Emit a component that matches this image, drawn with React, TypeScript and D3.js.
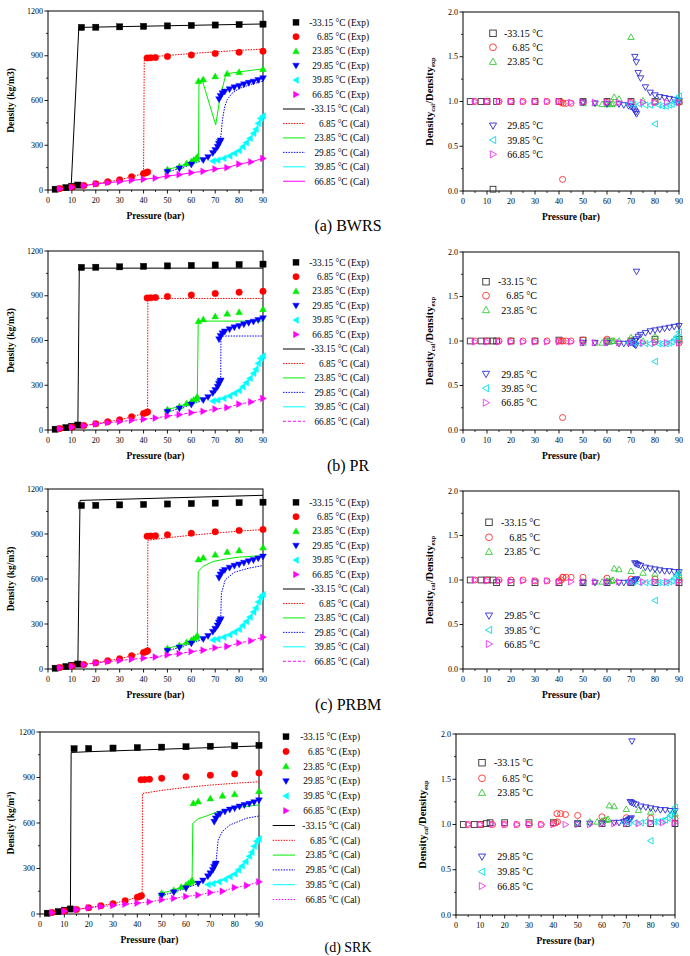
import React from 'react';
import * as d3 from 'd3';

const TEMPS = ['-33.15', '6.85', '23.85', '29.85', '39.85', '66.85'];
const X_TICKS = [0, 10, 20, 30, 40, 50, 60, 70, 80, 90];
const DENS_TICKS = [0, 300, 600, 900, 1200];
const RATIO_TICKS = [0, 0.5, 1.0, 1.5, 2.0];
const CAPTIONS = ['(a) BWRS', '(b) PR', '(c) PRBM', '(d) SRK'];

// ---- Experimental data (pressure bar, density kg/m3)
const P_M33 = [3, 7.5, 10, 12.5, 14, 20, 30, 40, 50, 60, 70, 80, 90];
const D_M33 = [5, 16, 25, 33, 1090, 1091, 1094, 1097, 1100, 1103, 1106, 1109, 1112];
const P_685 = [5, 10, 15, 20, 25, 30, 35, 40, 41, 41.7, 41.5, 43, 45, 50, 60, 70, 80, 90];
const D_685 = [10, 20, 30, 42, 55, 68, 88, 110, 115, 121, 885, 886, 888, 895, 905, 915, 923, 930];
const P_2385 = [50, 55, 58, 60, 61, 62, 62.5, 63, 65, 70, 75, 80, 90];
const D_2385 = [138, 158, 178, 192, 202, 212, 222, 730, 742, 762, 780, 790, 810];
const P_2985 = [50, 55, 60, 65, 67, 69, 70, 71, 71.5, 72, 72.3, 71.6, 72.2, 73, 74, 76, 78, 80, 82, 84, 86, 88, 90];
const D_2985 = [122, 143, 170, 200, 220, 248, 268, 290, 310, 322, 332, 608, 630, 648, 660, 675, 688, 697, 708, 718, 726, 737, 749];
const P_3985 = [69, 71, 73.5, 76, 78, 80, 81.5, 83, 84.5, 86, 87, 88, 89, 90];
const D_3985 = [194, 200, 212, 228, 246, 264, 290, 317, 346, 380, 407, 447, 480, 496];
const P_6685 = [5, 10, 15, 20, 25, 30, 35, 40, 45, 50, 55, 60, 65, 70, 75, 80, 85, 90];
const D_6685 = [9, 18, 29, 40, 49, 56, 65, 72, 80, 94, 103, 116, 125, 141, 150, 174, 188, 212];

// ---- shared low (vapour) branches of calculated curves
const LOW_M33: [number, number][] = [[3, 5], [7.5, 16], [10, 25], [12.5, 33]];
const LOW_685: [number, number][] = [[5, 10], [10, 20], [15, 30], [20, 42], [25, 55], [30, 68], [35, 88], [40, 110]];
const LOW_2385: [number, number][] = [[50, 138], [55, 158], [58, 178], [60, 192], [61, 202], [62, 212], [62.5, 222]];
const LOW_2985: [number, number][] = [[50, 122], [55, 143], [60, 170], [65, 200], [67, 220], [69, 248], [70, 268], [71, 290], [72, 322]];
const CAL_3985: [number, number][] = [[69, 194], [71, 200], [73.5, 212], [76, 228], [78, 246], [80, 264], [81.5, 290], [83, 317], [84.5, 346], [86, 380], [87, 407], [88, 447], [89, 480], [90, 496]];
const CAL_6685: [number, number][] = [[3, 5], [5, 9], [10, 18], [15, 29], [20, 40], [25, 49], [30, 56], [35, 65], [40, 72], [45, 80], [50, 94], [55, 103], [60, 116], [65, 125], [70, 141], [75, 150], [80, 174], [85, 188], [90, 212]];

// ---- BWRS calculated
const BWRS_M33: [number, number][] = [[3, 5], [7.5, 16], [9.7, 25], [12.9, 1090], [90, 1113]];
const BWRS_685: [number, number][] = [...LOW_685, [40.3, 889], [50, 902], [60, 915], [70, 926], [80, 936], [90, 945]];
const BWRS_2385: [number, number][] = [...LOW_2385, [63, 228], [63.2, 715], [64.4, 745], [70.2, 436], [72, 620], [74.5, 778], [80, 792], [90, 812]];
const BWRS_2985: [number, number][] = [...LOW_2985, [72.5, 380], [73, 470], [74, 560], [75, 605], [77, 648], [80, 680], [85, 708], [90, 730]];

// ---- PR calculated
const PR_M33: [number, number][] = [...LOW_M33, [13.1, 1085], [90, 1085]];
const PR_685: [number, number][] = [...LOW_685, [41.7, 121], [41.8, 882], [90, 882]];
const PR_2385: [number, number][] = [...LOW_2385, [62.9, 730], [90, 730]];
const PR_2985: [number, number][] = [...LOW_2985, [72.3, 332], [72.4, 630], [90, 630]];

// ---- PRBM calculated
const PRBM_M33: [number, number][] = [...LOW_M33, [13.4, 1124], [90, 1158]];
const PRBM_685: [number, number][] = [...LOW_685, [41.7, 121], [41.8, 858], [50, 875], [60, 892], [70, 906], [80, 919], [90, 930]];
const PRBM_2385: [number, number][] = [...LOW_2385, [62.9, 650], [65, 685], [69.2, 717], [75, 735], [80, 746], [90, 756]];
const PRBM_2985: [number, number][] = [...LOW_2985, [72.3, 335], [72.6, 505], [74.2, 595], [78, 645], [84, 672], [90, 690]];

// ---- SRK calculated
const SRK_M33: [number, number][] = [...LOW_M33, [12.8, 1065], [20, 1070], [90, 1108]];
const SRK_685: [number, number][] = [...LOW_685, [42, 121], [42.1, 795], [50, 815], [60, 835], [70, 850], [80, 862], [90, 872]];
const SRK_2385: [number, number][] = [...LOW_2385, [62.8, 598], [65, 628], [68.4, 646], [72.5, 672], [80, 700], [90, 719]];
const SRK_2985: [number, number][] = [...LOW_2985, [72.3, 332], [73.2, 488], [75, 545], [78, 587], [84.8, 631], [90, 646]];

// ---- ratio Density_cal / Density_exp (aligned with the experimental pressure arrays)
const BWRS_R_M33 = [1, 1, 1, 0.02, 1, 1, 1, 1, 1, 1, 1, 1, 1];
const BWRS_R_685 = [1, 1, 1, 1, 1, 1, 1, 1, 0.99, 0.98, 0.13, 0.98, 0.98, 0.99, 0.99, 0.99, 0.99, 0.99];
const BWRS_R_2385 = [0.98, 0.98, 0.97, 0.97, 0.97, 0.97, 0.98, 1.05, 1.03, 1.72, 1.01, 1.0, 1.0];
const BWRS_R_2985 = [0.99, 0.98, 0.97, 0.97, 0.96, 0.95, 0.94, 0.92, 0.9, 0.88, 0.86, 1.5, 1.44, 1.32, 1.26, 1.16, 1.1, 1.07, 1.05, 1.04, 1.03, 1.02, 1.01];
const BWRS_R_3985 = [0.97, 0.97, 0.97, 0.96, 0.96, 0.75, 0.96, 0.95, 0.95, 0.96, 0.97, 0.99, 1.02, 1.06];
const BWRS_R_6685 = [1, 1, 1, 1, 1, 1, 1, 1, 0.99, 0.99, 0.99, 0.99, 0.99, 0.99, 0.99, 0.99, 0.99, 0.99];

const PR_R_M33 = [1, 1, 1, 1, 1, 1, 1, 1.01, 1.01, 1.0, 1.0, 1.02, 1.02];
const PR_R_685 = [1, 1, 1, 1, 1, 1, 1, 1, 1, 1, 0.14, 1, 1, 1.01, 1.02, 1.0, 0.99, 0.98];
const PR_R_2385 = [0.98, 0.98, 0.98, 0.99, 0.99, 1.0, 1.0, 1.0, 1.0, 1.04, 1.0, 1.05, 1.02];
const PR_R_2985 = [0.98, 0.98, 0.98, 0.97, 0.97, 0.97, 0.98, 0.97, 0.96, 0.95, 1.78, 1.0, 1.02, 1.05, 1.07, 1.09, 1.11, 1.12, 1.13, 1.14, 1.15, 1.16, 1.17];
const PR_R_3985 = [0.98, 0.98, 0.97, 0.97, 0.97, 0.77, 0.97, 0.97, 0.97, 0.98, 0.99, 1.02, 1.05, 1.1];
const PR_R_6685 = [0.99, 0.99, 0.99, 0.99, 0.99, 0.99, 0.99, 0.99, 0.99, 0.98, 0.98, 0.98, 0.98, 0.98, 0.98, 0.98, 0.98, 0.98];

const PRBM_R_M33 = [1, 1, 1, 1, 0.97, 0.97, 0.97, 0.97, 0.97, 0.97, 0.97, 0.97, 0.97];
const PRBM_R_685 = [1, 1, 1, 1, 1, 0.99, 0.99, 0.99, 1.0, 1.03, 1.03, 1.03, 1.03, 1.03, 1.02, 1.01, 1.01, 1.0];
const PRBM_R_2385 = [0.98, 0.98, 0.98, 0.99, 0.99, 0.99, 1.0, 1.13, 1.12, 1.1, 1.08, 1.07, 1.05];
const PRBM_R_2985 = [0.97, 0.97, 0.97, 0.97, 0.97, 0.97, 0.97, 0.98, 0.99, 1.0, 1.01, 1.19, 1.18, 1.17, 1.16, 1.14, 1.13, 1.12, 1.11, 1.1, 1.1, 1.09, 1.09];
const PRBM_R_3985 = [0.98, 0.98, 0.97, 0.97, 0.97, 0.77, 0.97, 0.97, 0.97, 0.98, 0.99, 1.02, 1.05, 1.08];
const PRBM_R_6685 = [1, 0.99, 0.99, 0.99, 0.99, 0.99, 0.99, 0.98, 0.98, 0.98, 0.98, 0.98, 0.98, 0.98, 0.98, 0.98, 0.98, 0.98];

const SRK_R_M33 = [1, 1, 1, 1.01, 1.02, 1.02, 1.02, 1.02, 1.01, 1.01, 1.01, 1.01, 1.01];
const SRK_R_685 = [1, 1, 1, 1, 1, 1, 1, 1.01, 1.02, 1.03, 1.12, 1.12, 1.11, 1.1, 1.085, 1.075, 1.07, 1.065];
const SRK_R_2385 = [1.02, 1.03, 1.03, 1.04, 1.05, 1.05, 1.06, 1.21, 1.2, 1.17, 1.16, 1.14, 1.12];
const SRK_R_2985 = [1.01, 1.01, 1.01, 1.02, 1.02, 1.03, 1.04, 1.05, 1.06, 1.07, 1.92, 1.25, 1.24, 1.23, 1.22, 1.2, 1.19, 1.18, 1.17, 1.16, 1.16, 1.15, 1.15];
const SRK_R_3985 = [1.02, 1.02, 1.02, 1.02, 1.03, 0.82, 1.03, 1.03, 1.04, 1.05, 1.07, 1.1, 1.14, 1.19];
const SRK_R_6685 = [1, 1, 1, 1, 1, 1, 1, 1, 1, 1, 1, 1.01, 1.01, 1.01, 1.01, 1.02, 1.02, 1.02];

const EXP_P = [P_M33, P_685, P_2385, P_2985, P_3985, P_6685];
const EXP_D = [D_M33, D_685, D_2385, D_2985, D_3985, D_6685];
const CAL = [
  [BWRS_M33, BWRS_685, BWRS_2385, BWRS_2985, CAL_3985, CAL_6685],
  [PR_M33, PR_685, PR_2385, PR_2985, CAL_3985, CAL_6685],
  [PRBM_M33, PRBM_685, PRBM_2385, PRBM_2985, CAL_3985, CAL_6685],
  [SRK_M33, SRK_685, SRK_2385, SRK_2985, CAL_3985, CAL_6685],
];
const RATIO = [
  [BWRS_R_M33, BWRS_R_685, BWRS_R_2385, BWRS_R_2985, BWRS_R_3985, BWRS_R_6685],
  [PR_R_M33, PR_R_685, PR_R_2385, PR_R_2985, PR_R_3985, PR_R_6685],
  [PRBM_R_M33, PRBM_R_685, PRBM_R_2385, PRBM_R_2985, PRBM_R_3985, PRBM_R_6685],
  [SRK_R_M33, SRK_R_685, SRK_R_2385, SRK_R_2985, SRK_R_3985, SRK_R_6685],
];

const SHAPES = ['square', 'circle', 'up', 'down', 'left', 'right'];
const FILL_COLORS = ['#000000', '#ff0000', '#00ee00', '#0000ff', '#00ffff', '#ff00ff'];
const OPEN_COLORS = ['#333333', '#ff3030', '#33cc33', '#2a2ad8', '#00e0e8', '#ee33ee'];
const FONT = '"Liberation Serif", "Times New Roman", serif';

type Box = { x0: number; x1: number; y0: number; y1: number };

const ROWS = [
  {
    L: { x0: 48, x1: 263, y0: 11, y1: 190 }, R: { x0: 463, x1: 679, y0: 12, y1: 191 },
    legL: { mx: 296, tx: 369, lx0: 283, lx1: 305, y0: 22.3, dy: 14.45 },
    legR: { mx: 493, tx: 543, ys: [33.3, 47.3, 61.7, 125.7, 140, 154.3] },
    magDash: 'none', sup3: false, yLabX: 11, capY: 231, capSize: 16,
  },
  {
    L: { x0: 48, x1: 263, y0: 251, y1: 430 }, R: { x0: 463, x1: 679, y0: 252, y1: 430 },
    legL: { mx: 296, tx: 369, lx0: 283, lx1: 305, y0: 262.3, dy: 14.45 },
    legR: { mx: 486, tx: 537, ys: [281.7, 295.7, 310, 374, 388.3, 402.7] },
    magDash: '3,2', sup3: false, yLabX: 11, capY: 471, capSize: 16,
  },
  {
    L: { x0: 48, x1: 263, y0: 489, y1: 669 }, R: { x0: 463, x1: 679, y0: 491, y1: 669 },
    legL: { mx: 296, tx: 369, lx0: 283, lx1: 305, y0: 502.3, dy: 14.45 },
    legR: { mx: 489, tx: 540, ys: [522.3, 537.3, 551.7, 615.7, 630, 644] },
    magDash: '3,2', sup3: false, yLabX: 11, capY: 710, capSize: 16,
  },
  {
    L: { x0: 40, x1: 259, y0: 732, y1: 914 }, R: { x0: 456, x1: 675, y0: 734, y1: 915 },
    legL: { mx: 286, tx: 360, lx0: 272.7, lx1: 295, y0: 736.7, dy: 14.8 },
    legR: { mx: 482, tx: 533, ys: [762.7, 778.3, 792.7, 856.7, 871.7, 886] },
    magDash: '1.5,1.5', sup3: true, yLabX: 11, capY: 952, capSize: 14,
  },
];

function Marker({ shape, x, y, s, fill, stroke, sw }: any) {
  const h = s / 2;
  if (shape === 'square') return <rect x={x - h} y={y - h} width={s} height={s} fill={fill} stroke={stroke} strokeWidth={sw} />;
  if (shape === 'circle') return <circle cx={x} cy={y} r={h * 1.05} fill={fill} stroke={stroke} strokeWidth={sw} />;
  const k = h * 1.1;
  let pts: number[][] = [];
  if (shape === 'up') pts = [[x, y - k], [x - k, y + k * 0.75], [x + k, y + k * 0.75]];
  if (shape === 'down') pts = [[x, y + k], [x - k, y - k * 0.75], [x + k, y - k * 0.75]];
  if (shape === 'left') pts = [[x - k, y], [x + k * 0.75, y - k], [x + k * 0.75, y + k]];
  if (shape === 'right') pts = [[x + k, y], [x - k * 0.75, y - k], [x - k * 0.75, y + k]];
  return <polygon points={pts.map((p) => p.join(',')).join(' ')} fill={fill} stroke={stroke} strokeWidth={sw} strokeLinejoin="miter" />;
}

function Frame({ box, x, y, yTicks, yMinor, yFmt }: any) {
  const els: any[] = [];
  X_TICKS.forEach((t, i) => {
    const px = x(t);
    els.push(<line key={'xt' + i} x1={px} x2={px} y1={box.y1} y2={box.y1 + 3.5} stroke="#000" strokeWidth={0.9} />);
    els.push(<text key={'xl' + i} x={px} y={box.y1 + 12.5} fontSize={8} textAnchor="middle" fontFamily={FONT}>{t}</text>);
    if (i < X_TICKS.length - 1) {
      const m = x(t + 5);
      els.push(<line key={'xm' + i} x1={m} x2={m} y1={box.y1} y2={box.y1 + 2} stroke="#000" strokeWidth={0.8} />);
    }
  });
  yTicks.forEach((t: number, i: number) => {
    const py = y(t);
    els.push(<line key={'yt' + i} x1={box.x0 - 3.5} x2={box.x0} y1={py} y2={py} stroke="#000" strokeWidth={0.9} />);
    els.push(<text key={'yl' + i} x={box.x0 - 5} y={py} dy="0.33em" fontSize={8} textAnchor="end" fontFamily={FONT}>{yFmt(t)}</text>);
    if (i < yTicks.length - 1) {
      const m = y(t + yMinor);
      els.push(<line key={'ym' + i} x1={box.x0 - 2} x2={box.x0} y1={m} y2={m} stroke="#000" strokeWidth={0.8} />);
    }
  });
  els.push(<rect key="frame" x={box.x0} y={box.y0} width={box.x1 - box.x0} height={box.y1 - box.y0} fill="none" stroke="#000" strokeWidth={1} />);
  return <g>{els}</g>;
}

function lineDash(i: number, magDash: string) {
  if (i === 1 || i === 3) return '1.5,1.2';
  if (i === 5) return magDash;
  return 'none';
}

function Row({ ri }: { ri: number }) {
  const row = ROWS[ri];
  const L: Box = row.L;
  const R: Box = row.R;
  const xL = d3.scaleLinear().domain([0, 90]).range([L.x0, L.x1]);
  const yL = d3.scaleLinear().domain([0, 1200]).range([L.y1, L.y0]);
  const xR = d3.scaleLinear().domain([0, 90]).range([R.x0, R.x1]);
  const yR = d3.scaleLinear().domain([0, 2]).range([R.y1, R.y0]);
  const line = d3.line<[number, number]>().x((d) => xL(d[0])).y((d) => yL(d[1]));
  const lg = row.legL;
  const lr = row.legR;
  const capX = 348;
  return (
    <g>
      {/* Left panel */}
      <Frame box={L} x={xL} y={yL} yTicks={DENS_TICKS} yMinor={150} yFmt={(t: number) => String(t)} />
      {CAL[ri].map((pts, i) => (
        <path key={'c' + i} d={line(pts as [number, number][]) || ''} fill="none" stroke={FILL_COLORS[i]} strokeWidth={1} strokeDasharray={lineDash(i, row.magDash)} />
      ))}
      {EXP_P.map((ps, i) => ps.map((p, j) => (
        <Marker key={'e' + i + '_' + j} shape={SHAPES[i]} x={xL(p)} y={yL(EXP_D[i][j])} s={6.2} fill={FILL_COLORS[i]} stroke={FILL_COLORS[i]} sw={0.4} />
      )))}
      <text x={(L.x0 + L.x1) / 2} y={L.y1 + 29} fontSize={9.5} fontWeight="bold" textAnchor="middle" fontFamily={FONT}>Pressure (bar)</text>
      <text transform={`translate(${row.yLabX},${(L.y0 + L.y1) / 2}) rotate(-90)`} fontSize={9.5} fontWeight="bold" textAnchor="middle" dy="0.35em" fontFamily={FONT}>
        {row.sup3 ? (<>Density (kg/m<tspan dy="-3.5" fontSize={6}>3</tspan><tspan dy="3.5">)</tspan></>) : 'Density (kg/m3)'}
      </text>
      {/* Left legend */}
      {TEMPS.map((t, i) => (
        <g key={'le' + i}>
          <Marker shape={SHAPES[i]} x={lg.mx} y={lg.y0 + i * lg.dy} s={6} fill={FILL_COLORS[i]} stroke={FILL_COLORS[i]} sw={0.4} />
          <text x={lg.tx} y={lg.y0 + i * lg.dy} dy="0.35em" fontSize={9.3} textAnchor="end" fontFamily={FONT}>{t} °C (Exp)</text>
        </g>
      ))}
      {TEMPS.map((t, i) => {
        const yy = lg.y0 + (i + 6) * lg.dy;
        return (
          <g key={'lc' + i}>
            <line x1={lg.lx0} x2={lg.lx1} y1={yy} y2={yy} stroke={FILL_COLORS[i]} strokeWidth={1} strokeDasharray={lineDash(i, row.magDash)} />
            <text x={lg.tx} y={yy} dy="0.35em" fontSize={9.3} textAnchor="end" fontFamily={FONT}>{t} °C (Cal)</text>
          </g>
        );
      })}

      {/* Right panel */}
      <Frame box={R} x={xR} y={yR} yTicks={RATIO_TICKS} yMinor={0.25} yFmt={d3.format('.1f')} />
      {EXP_P.map((ps, i) => ps.map((p, j) => (
        <Marker key={'r' + i + '_' + j} shape={SHAPES[i]} x={xR(p)} y={yR(RATIO[ri][i][j])} s={5.8} fill="none" stroke={OPEN_COLORS[i]} sw={0.9} />
      )))}
      <text x={(R.x0 + R.x1) / 2} y={R.y1 + 29} fontSize={9.5} fontWeight="bold" textAnchor="middle" fontFamily={FONT}>Pressure (bar)</text>
      <text transform={`translate(${R.x0 - 34},${(R.y0 + R.y1) / 2}) rotate(-90)`} fontSize={10.5} fontWeight="bold" textAnchor="middle" dy="0.35em" fontFamily={FONT}>
        Density<tspan fontSize={6.5} dy="2.5">cal</tspan><tspan dy="-2.5">/Density</tspan><tspan fontSize={6.5} dy="2.5">exp</tspan>
      </text>
      {TEMPS.map((t, i) => (
        <g key={'rl' + i}>
          <Marker shape={SHAPES[i]} x={lr.mx} y={lr.ys[i]} s={6.5} fill="none" stroke={OPEN_COLORS[i]} sw={0.9} />
          <text x={lr.tx} y={lr.ys[i]} dy="0.35em" fontSize={10} textAnchor="end" fontFamily={FONT}>{t} °C</text>
        </g>
      ))}
      <text x={capX} y={row.capY} fontSize={row.capSize} textAnchor="middle" fontFamily={FONT}>{CAPTIONS[ri]}</text>
    </g>
  );
}

export default function App() {
  return (
    <svg width={690} height={956} style={{ position: 'absolute', left: 0, top: 0, background: '#fff' }}>
      <rect x={0} y={0} width={690} height={956} fill="#fff" />
      {ROWS.map((_, i) => <Row key={i} ri={i} />)}
    </svg>
  );
}
